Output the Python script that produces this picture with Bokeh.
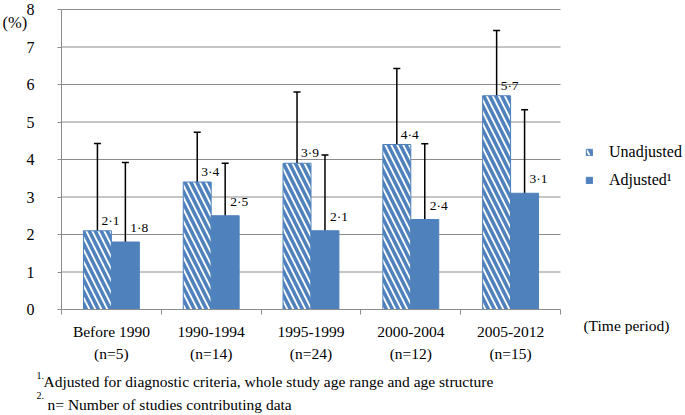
import numpy as np
from bokeh.plotting import figure
from bokeh.models import (ColumnDataSource, Range1d, FixedTicker, Whisker, TeeHead,
                          LabelSet, Label, Legend, LegendItem, LinearAxis)
from bokeh.transform import dodge
from bokeh.embed import file_html
from bokeh.resources import INLINE

# ---------------- data ----------------
periods = ["Before 1990", "1990-1994", "1995-1999", "2000-2004", "2005-2012"]
n_studies = [5, 14, 24, 12, 15]
unadjusted = [2.1, 3.4, 3.9, 4.4, 5.7]
unadj_lower = [0.47, 1.88, 2.25, 2.16, 3.57]
unadj_upper = [4.43, 4.73, 5.80, 6.43, 7.44]
adjusted = [1.8, 2.5, 2.1, 2.4, 3.1]
adj_lower = [0.12, 1.23, 0.21, 0.62, 0.95]
adj_upper = [3.92, 3.90, 4.12, 4.42, 5.33]
y_ticks = [0, 1, 2, 3, 4, 5, 6, 7, 8]

BLUE = "#4F81BD"
GRID = "#8c8c8c"
FONT = "Liberation Serif"

def fmt(v):
    return f"{v:.1f}".replace(".", "\u00b7")

centers = [i + 0.5 for i in range(len(periods))]
boundaries = [float(i) for i in range(len(periods) + 1)]
y_max = y_ticks[-1]

src = ColumnDataSource(dict(
    x=centers,
    unadj=unadjusted, u_lo=unadj_lower, u_hi=unadj_upper, u_txt=[fmt(v) for v in unadjusted],
    adj=adjusted, a_lo=adj_lower, a_hi=adj_upper, a_txt=[fmt(v) for v in adjusted],
))

# layout: the frame covers the whole canvas; the chart area (0..5, 0..8) sits inside it
W, H = 685, 415
PX_X = 99.8      # pixels per category
PX_Y = 37.5      # pixels per percent
LEFT, TOP = 61, 9  # chart area offset within the canvas
x0 = -LEFT / PX_X
x1 = x0 + W / PX_X
y1 = y_max + TOP / PX_Y
y0 = y1 - H / PX_Y

p = figure(width=W, height=H, output_backend="svg", toolbar_location=None,
           x_range=Range1d(x0, x1), y_range=Range1d(y0, y1),
           x_axis_location=None, y_axis_location=None,
           min_border=0)
p.outline_line_color = None
p.background_fill_color = "white"
p.border_fill_color = "white"
p.xgrid.visible = False
p.ygrid.visible = False

# horizontal grid lines limited to the chart area
gs = ColumnDataSource(dict(y=y_ticks[1:], x0=[0] * (len(y_ticks) - 1),
                           x1=[len(periods)] * (len(y_ticks) - 1)))
p.segment(x0="x0", x1="x1", y0="y", y1="y", source=gs, line_color=GRID, line_width=1,
          level="underlay")

# bars
BW = 0.28
r_un = p.vbar(x=dodge("x", -BW / 2), top="unadj", width=BW, source=src,
              fill_color="white", line_color=BLUE, line_width=1,
              hatch_pattern="\\", hatch_color=BLUE, hatch_weight=3.5, hatch_scale=12)
r_ad = p.vbar(x=dodge("x", BW / 2), top="adj", width=BW, source=src,
              fill_color=BLUE, line_color=BLUE, line_width=1)

# error bars
for base, lo, hi in [(dodge("x", -BW / 2), "u_lo", "u_hi"), (dodge("x", BW / 2), "a_lo", "a_hi")]:
    w = Whisker(base=base, lower=lo, upper=hi, source=src, line_color="black", line_width=1.5,
                upper_head=TeeHead(size=7, line_width=1.5, line_color="black"),
                lower_head=TeeHead(size=7, line_width=1.5, line_color="black"))
    p.add_layout(w)

# value labels
p.add_layout(LabelSet(x=dodge("x", -BW / 2), y="unadj", text="u_txt", source=src,
                      x_offset=4, y_offset=3, text_align="left", text_baseline="bottom",
                      text_font=FONT, text_font_size="13.5px", text_color="black"))
p.add_layout(LabelSet(x=dodge("x", BW / 2), y="adj", text="a_txt", source=src,
                      x_offset=5, y_offset=7, text_align="left", text_baseline="bottom",
                      text_font=FONT, text_font_size="13.5px", text_color="black"))

# axes at fixed data locations
xa = LinearAxis(fixed_location=0, bounds=(0, len(periods)))
xa.ticker = FixedTicker(ticks=centers, minor_ticks=boundaries)
xa.major_label_overrides = {c: f"{name}\n(n={n})" for c, name, n in zip(centers, periods, n_studies)}
xa.major_tick_line_color = None
xa.major_tick_out = 0
xa.major_tick_in = 0
xa.minor_tick_line_color = GRID
xa.minor_tick_in = 0
xa.minor_tick_out = 5
xa.axis_line_color = GRID
xa.major_label_standoff = 8
xa.major_label_text_font = FONT
xa.major_label_text_font_size = "15.5px"
xa.major_label_text_color = "black"
xa.major_label_text_line_height = 1.35
p.add_layout(xa, "below")

ya = LinearAxis(fixed_location=0, bounds=(0, y_max))
ya.ticker = FixedTicker(ticks=y_ticks)
ya.minor_tick_line_color = None
ya.major_tick_line_color = GRID
ya.major_tick_in = 0
ya.major_tick_out = 4
ya.axis_line_color = GRID
ya.major_label_standoff = 23
ya.major_label_text_font = FONT
ya.major_label_text_font_size = "16px"
ya.major_label_text_color = "black"
p.add_layout(ya, "left")

# legend
legend = Legend(items=[LegendItem(label="Unadjusted", renderers=[r_un]),
                       LegendItem(label="Adjusted\u00b9", renderers=[r_ad])],
                location=(585, 225), glyph_width=8, glyph_height=8, label_standoff=16,
                spacing=8, label_height=20, padding=0, margin=0,
                border_line_color=None, background_fill_alpha=0,
                label_text_font=FONT, label_text_font_size="16px", label_text_color="black")
p.add_layout(legend)

# texts around the chart
txt = dict(text_font=FONT, text_color="black", text_baseline="middle", text_align="left")
p.add_layout(Label(x=-0.59, y=7.65, text="(%)", text_font_size="16.5px", **txt))
p.add_layout(Label(x=5.23, y=-0.43, text="(Time period)", text_font_size="15.5px", **txt))
p.add_layout(Label(x=-0.25, y=-1.75, text="1.", text_font_size="10px", **txt))
p.add_layout(Label(x=-0.18, y=-1.92, text="Adjusted for diagnostic criteria, whole study age range and age structure",
                   text_font_size="15.5px", **txt))
p.add_layout(Label(x=-0.25, y=-2.30, text="2.", text_font_size="10px", **txt))
p.add_layout(Label(x=-0.14, y=-2.53, text="n= Number of studies contributing data",
                   text_font_size="15.5px", **txt))

open("out.html", "w").write(file_html(p, INLINE))
